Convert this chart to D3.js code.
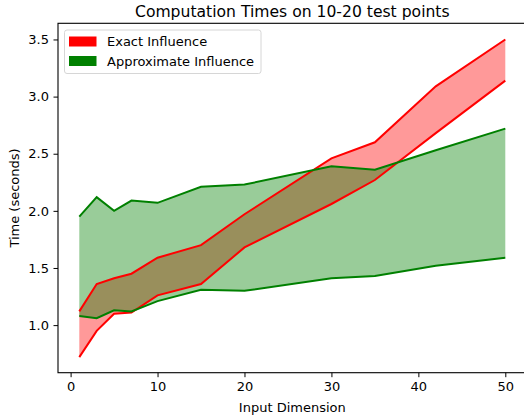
<!DOCTYPE html>
<html>
<head>
<meta charset="utf-8">
<script src="https://cdn.jsdelivr.net/npm/d3@7"></script>
<style>
  body { margin: 0; background: #fff; }
  text { font-family: "DejaVu Sans", sans-serif; fill: #000; }
</style>
</head>
<body>
<div id="chart"></div>
<script>
var dims = [1, 3, 5, 7, 10, 15, 20, 30, 35, 42, 50];
var exactLow = [0.72, 0.95, 1.10, 1.11, 1.26, 1.36, 1.68, 2.06, 2.27, 2.68, 3.14];
var exactHigh = [1.12, 1.36, 1.41, 1.45, 1.59, 1.70, 1.97, 2.46, 2.60, 3.09, 3.50];
var approxLow = [1.08, 1.06, 1.13, 1.12, 1.21, 1.31, 1.30, 1.41, 1.43, 1.52, 1.59];
var approxHigh = [1.95, 2.12, 2.00, 2.09, 2.07, 2.21, 2.23, 2.39, 2.36, 2.53, 2.72];
var xTicks = [0, 10, 20, 30, 40, 50];
var yTicks = [1.0, 1.5, 2.0, 2.5, 3.0, 3.5];
var legendLabels = ["Exact Influence", "Approximate Influence"];
var legendColors = ["red", "green"];

var width = 524, height = 420;
var margin = {top: 23.3, left: 58, right: -2.6, bottom: 47.3};
var w = width - margin.left - margin.right,
    h = height - margin.top - margin.bottom;

var svg = d3.select("#chart").append("svg")
    .attr("width", width)
    .attr("height", height);

var g = svg.append("g")
    .attr("transform", "translate(" + margin.left + "," + margin.top + ")");

var x = d3.scaleLinear().domain([-1.45, 52.45]).range([0, w]);
var y = d3.scaleLinear().domain([0.5835, 3.6415]).range([h, 0]);

var rows = dims.map(function(d, i) {
    return {dim: d, el: exactLow[i], eh: exactHigh[i], al: approxLow[i], ah: approxHigh[i]};
});

function band(lo, hi) {
    return d3.area()
        .x(function(d) { return x(d.dim); })
        .y0(function(d) { return y(d[lo]); })
        .y1(function(d) { return y(d[hi]); });
}
function line(key) {
    return d3.line()
        .x(function(d) { return x(d.dim); })
        .y(function(d) { return y(d[key]); });
}

g.append("path").datum(rows).attr("d", band("el", "eh"))
    .attr("fill", "red").attr("fill-opacity", 0.4);
g.append("path").datum(rows).attr("d", band("al", "ah"))
    .attr("fill", "green").attr("fill-opacity", 0.4);

["el", "eh"].forEach(function(k) {
    g.append("path").datum(rows).attr("d", line(k))
        .attr("fill", "none").attr("stroke", "red").attr("stroke-width", 2);
});
["al", "ah"].forEach(function(k) {
    g.append("path").datum(rows).attr("d", line(k))
        .attr("fill", "none").attr("stroke", "green").attr("stroke-width", 2);
});

// axes frame
g.append("rect").attr("width", w).attr("height", h)
    .attr("fill", "none").attr("stroke", "#000").attr("stroke-width", 1.1);

var xAxis = g.append("g")
    .attr("transform", "translate(0," + h + ")")
    .call(d3.axisBottom(x).tickValues(xTicks).tickFormat(d3.format("d"))
          .tickSizeInner(4.5).tickSizeOuter(0).tickPadding(4.5));
var yAxis = g.append("g")
    .call(d3.axisLeft(y).tickValues(yTicks).tickFormat(d3.format(".1f"))
          .tickSizeInner(4.5).tickSizeOuter(0).tickPadding(4.5));

[xAxis, yAxis].forEach(function(a) {
    a.select(".domain").remove();
    a.selectAll("line").attr("stroke", "#000").attr("stroke-width", 1);
    a.selectAll("text").style("font-family", "DejaVu Sans, sans-serif")
        .style("font-size", "13px").attr("fill", "#000");
});

svg.append("text")
    .attr("x", margin.left + w / 2).attr("y", 16.5)
    .attr("text-anchor", "middle").style("font-size", "15.6px")
    .text("Computation Times on 10-20 test points");

svg.append("text")
    .attr("x", margin.left + w / 2).attr("y", 412)
    .attr("text-anchor", "middle").style("font-size", "13px")
    .text("Input Dimension");

svg.append("text")
    .attr("transform", "translate(18.5," + (margin.top + h / 2) + ") rotate(-90)")
    .attr("text-anchor", "middle").style("font-size", "13px")
    .text("Time (seconds)");

// legend
var legend = svg.append("g").attr("transform", "translate(64.5,30)");
legend.append("rect")
    .attr("width", 196.5).attr("height", 43.5).attr("rx", 2.5)
    .attr("fill", "#fff").attr("fill-opacity", 0.8)
    .attr("stroke", "#d6d6d6").attr("stroke-width", 1);
legendLabels.forEach(function(lab, i) {
    var row = legend.append("g").attr("transform", "translate(0," + (i * 19.5) + ")");
    row.append("rect")
        .attr("x", 4.5).attr("y", 6.5).attr("width", 27.5).attr("height", 10)
        .attr("fill", legendColors[i]);
    row.append("text")
        .attr("x", 42.5).attr("y", 16)
        .style("font-size", "13px")
        .text(lab);
});
</script>
</body>
</html>
